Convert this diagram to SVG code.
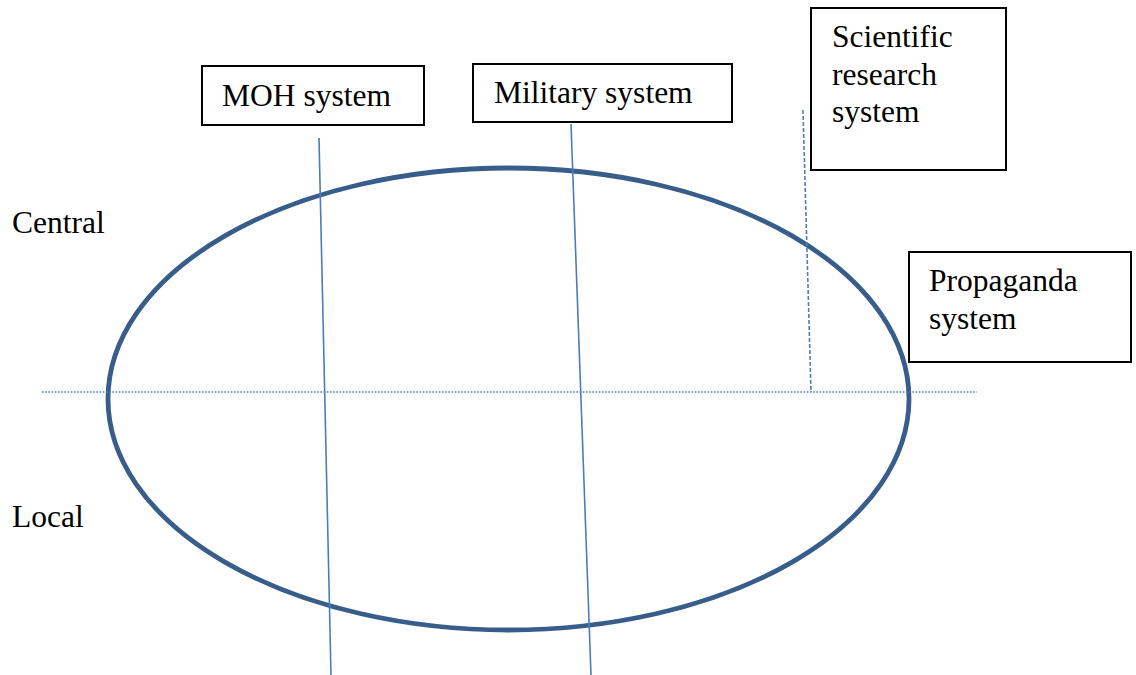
<svg xmlns="http://www.w3.org/2000/svg" width="1136" height="675" viewBox="0 0 1136 675">
<style>
.box{fill:#fff;stroke:#000;stroke-width:2}
.t{font-family:"Liberation Serif","Times New Roman",serif;font-size:31.5px;fill:#000}
.ln{stroke:#4a7ebb;stroke-width:1.6;fill:none}
</style>
<rect width="1136" height="675" fill="#fff"/>
<g id="ellipse"><ellipse cx="508.5" cy="399" rx="400.5" ry="231" fill="none" stroke="#385d8a" stroke-width="4.8"/></g>
<g id="connectors">
<line class="ln" x1="42" y1="392" x2="977" y2="392" stroke-dasharray="1.6 1.6"/>
<line class="ln" x1="319" y1="138" x2="331" y2="675"/>
<line class="ln" x1="571" y1="124" x2="591" y2="675"/>
<line class="ln" x1="803" y1="110" x2="811" y2="392" stroke-dasharray="4 2"/>
</g>
<g id="moh"><rect class="box" x="202" y="66" width="222" height="59"/><text class="t" x="222" y="106">MOH system</text></g>
<g id="military"><rect class="box" x="473" y="64" width="259" height="58"/><text class="t" x="494" y="103">Military system</text></g>
<g id="scientific"><rect class="box" x="811" y="8" width="195" height="162"/><text class="t" x="832" y="47">Scientific</text><text class="t" x="832" y="84.5">research</text><text class="t" x="832" y="122">system</text></g>
<g id="propaganda"><rect class="box" x="909" y="252" width="222" height="110"/><text class="t" x="929" y="291">Propaganda</text><text class="t" x="929" y="329">system</text></g>
<g id="central"><text class="t" x="12" y="233">Central</text></g>
<g id="local"><text class="t" x="12" y="527">Local</text></g>
</svg>
